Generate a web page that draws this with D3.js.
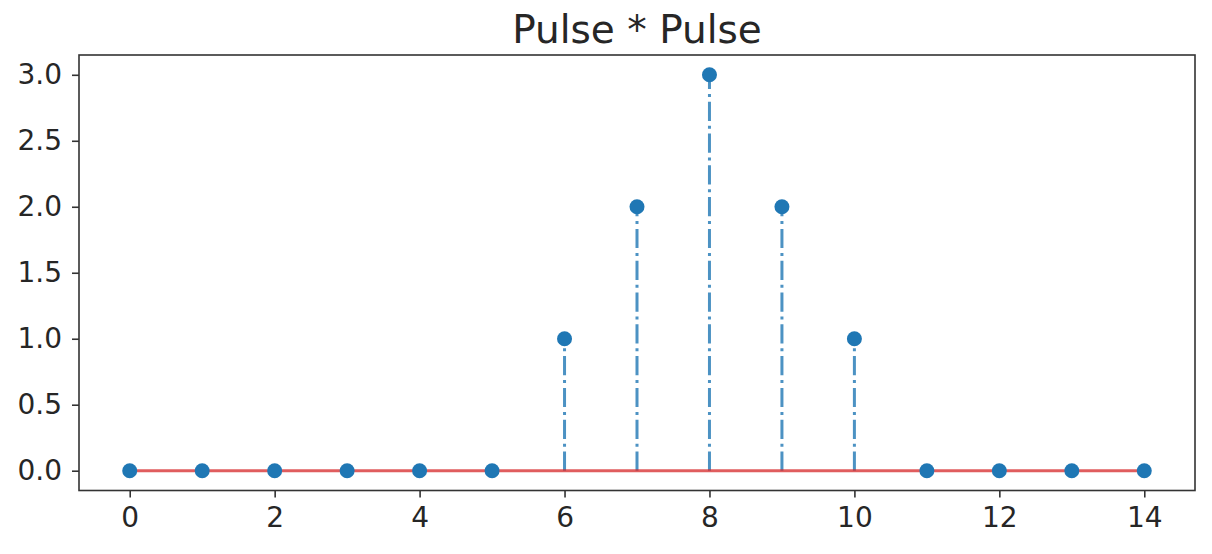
<!DOCTYPE html>
<html>
<head>
<meta charset="utf-8">
<script src="https://cdn.jsdelivr.net/npm/d3@7"></script>
<style>
  body { margin: 0; background: #fff; }
  text { font-family: "DejaVu Sans", sans-serif; fill: #262626; }
</style>
</head>
<body>
<svg></svg>
<script>
// data
const xs = [0, 1, 2, 3, 4, 5, 6, 7, 8, 9, 10, 11, 12, 13, 14];
const ys = [0, 0, 0, 0, 0, 0, 1, 2, 3, 2, 1, 0, 0, 0, 0];
const xTicks = [0, 2, 4, 6, 8, 10, 12, 14];
const yTicks = [0, 0.5, 1, 1.5, 2, 2.5, 3];
const title = "Pulse * Pulse";

const width = 1212, height = 554;
const plotLeft = 79, plotRight = 1195, plotTop = 55, plotBottom = 490.5;

const svg = d3.select('svg')
  .attr('width', width)
  .attr('height', height);

const x = d3.scaleLinear().domain([-0.7, 14.7]).range([plotLeft, plotRight]);
const y = d3.scaleLinear().domain([-0.15, 3.15]).range([plotBottom, plotTop]);

// axes
const xAxis = svg.append('g')
  .attr('transform', `translate(0,${plotBottom})`)
  .call(d3.axisBottom(x).tickValues(xTicks).tickFormat(d3.format('d'))
    .tickSize(7).tickPadding(10));
const yAxis = svg.append('g')
  .attr('transform', `translate(${plotLeft},0)`)
  .call(d3.axisLeft(y).tickValues(yTicks).tickFormat(d3.format('.1f'))
    .tickSize(7).tickPadding(10));

[xAxis, yAxis].forEach((a) => {
  a.select('.domain').remove();
  a.selectAll('line').attr('stroke', '#333').attr('stroke-width', 1.6);
  a.selectAll('text').style('font-size', '28px').attr('fill', '#222');
});

// stems
svg.append('g').selectAll('line')
  .data(xs.map((d, i) => ({ x: d, y: ys[i] })).filter((d) => d.y !== 0))
  .join('line')
    .attr('x1', (d) => x(d.x))
    .attr('x2', (d) => x(d.x))
    .attr('y1', y(0))
    .attr('y2', (d) => y(d.y))
    .attr('stroke', '#1f77b4')
    .attr('stroke-opacity', 0.8)
    .attr('stroke-width', 3)
    .attr('stroke-dasharray', '19.2,4.8,3,4.8');

// baseline
svg.append('line')
  .attr('x1', x(d3.min(xs)))
  .attr('x2', x(d3.max(xs)))
  .attr('y1', y(0))
  .attr('y2', y(0))
  .attr('stroke', '#d62728')
  .attr('stroke-opacity', 0.75)
  .attr('stroke-width', 3);

// markers
svg.append('g').selectAll('circle')
  .data(xs.map((d, i) => ({ x: d, y: ys[i] })))
  .join('circle')
    .attr('cx', (d) => x(d.x))
    .attr('cy', (d) => y(d.y))
    .attr('r', 7.5)
    .attr('fill', '#1f77b4');

// frame
svg.append('rect')
  .attr('x', plotLeft).attr('y', plotTop)
  .attr('width', plotRight - plotLeft).attr('height', plotBottom - plotTop)
  .attr('fill', 'none')
  .attr('stroke', '#333')
  .attr('stroke-width', 1.6);

svg.append('text')
  .attr('x', (plotLeft + plotRight) / 2)
  .attr('y', 42.5)
  .attr('text-anchor', 'middle')
  .style('font-size', '39px')
  .attr('fill', '#111')
  .text(title);
</script>
</body>
</html>
